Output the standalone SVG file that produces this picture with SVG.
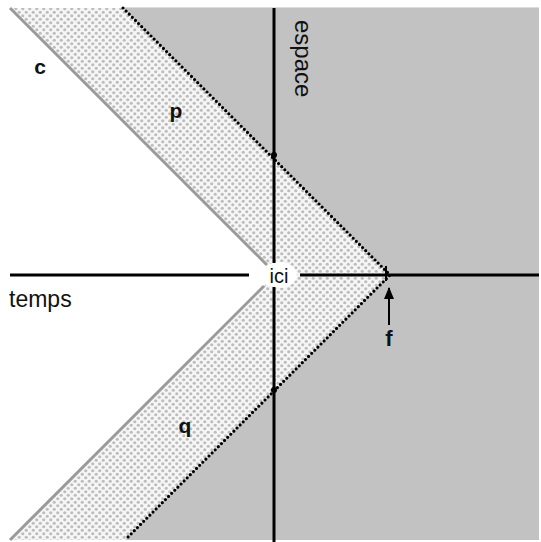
<svg xmlns="http://www.w3.org/2000/svg" width="541" height="542" viewBox="0 0 541 542">
<defs>
<pattern id="dots" width="7" height="7" patternUnits="userSpaceOnUse">
<rect width="7" height="7" fill="#f6f6f6"/>
<circle cx="1.75" cy="1.75" r="1.6" fill="#bdbdbd"/>
<circle cx="5.25" cy="5.25" r="1.6" fill="#bdbdbd"/>
</pattern>
<marker id="arr" markerWidth="12" markerHeight="10" refX="11" refY="5" orient="auto" markerUnits="userSpaceOnUse">
<path d="M0,0 L12,5 L0,10 Z" fill="#000"/>
</marker>
<style>
.axis{stroke:#000;stroke-width:3;fill:none}
.cone{stroke:#9a9a9a;stroke-width:3;fill:none}
.dot{stroke:#000;stroke-width:3.2;fill:none;stroke-dasharray:0 4.4;stroke-linecap:round}
.lbl{font-family:"Liberation Sans",Arial,sans-serif;font-size:23px;fill:#111}
.b{font-weight:bold;text-anchor:middle;font-size:21px}
</style>
</defs>
<rect width="541" height="542" fill="#fff"/>
<g id="regions">
<polygon points="123,8 539,8 539,540 125,540 390,275" fill="#c2c2c2"/>
<polygon points="10,8 123,8 390,275 125,540 10,540 276,274" fill="url(#dots)"/>
<line x1="123" y1="7.5" x2="539" y2="7.5" stroke="#ddd" stroke-width="1"/>
<ellipse cx="279" cy="275" rx="18" ry="13" fill="#fff"/>
</g>
<g id="connectors">
<line class="cone" x1="10" y1="8" x2="267" y2="265"/>
<line class="cone" x1="10" y1="540" x2="264" y2="286"/>
<polyline class="dot" points="123,8 390,275 125,540"/>
<line class="axis" x1="274" y1="8" x2="274" y2="263"/>
<line class="axis" x1="274" y1="287" x2="274" y2="542"/>
<line class="axis" x1="10" y1="275" x2="249" y2="275"/>
<line class="axis" x1="300" y1="275" x2="539" y2="275"/>
<circle cx="274" cy="155" r="3" fill="#000"/>
<circle cx="274" cy="390" r="3" fill="#000"/>
<line x1="386" y1="266" x2="386" y2="281" stroke="#000" stroke-width="2"/>
<line x1="389" y1="325" x2="389" y2="288" stroke="#000" stroke-width="2" marker-end="url(#arr)"/>
</g>
<g id="labels">
<text class="lbl b" x="40" y="74">c</text>
<text class="lbl b" x="176" y="118">p</text>
<text class="lbl b" x="185" y="433">q</text>
<text class="lbl b" x="389" y="346" style="font-size:22px">f</text>
<text class="lbl" x="9" y="307">temps</text>
<text class="lbl" x="279" y="283" text-anchor="middle" style="font-size:20px">ici</text>
<text class="lbl" transform="translate(295,20) rotate(90)" style="font-size:24px">espace</text>
</g>
</svg>
